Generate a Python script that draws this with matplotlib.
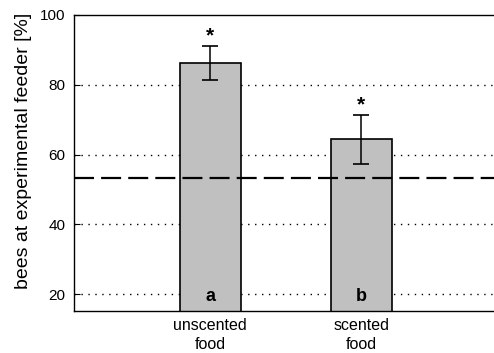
import numpy as np
import matplotlib.pyplot as plt

# Data
categories = ['unscented\nfood', 'scented\nfood']
means = [86.2, 64.4]
errors = [4.9, 7.0]
letters = ['a', 'b']
chance_level = 53.4
yticks = [20, 40, 60, 80, 100]

plt.rcParams['font.family'] = ['Liberation Sans', 'DejaVu Sans']

fig = plt.figure(figsize=(4.94, 3.53), dpi=100)
ax = fig.add_axes([74 / 494, 42 / 353, 1 - 74 / 494, 296 / 353])

x = np.arange(1, len(means) + 1)

# dotted grid lines behind the bars
for yv in yticks[:-1]:
    ax.axhline(yv, color='black', linestyle=(0, (1, 4)), linewidth=1.0, zorder=0)

ax.bar(x, means, width=0.402, bottom=0, color='#c0c0c0', edgecolor='black',
       linewidth=1.2, zorder=2)
ax.errorbar(x, means, yerr=errors, fmt='none', ecolor='black', elinewidth=1.1,
            capsize=6, capthick=1.2, zorder=3)

# significance asterisks and letters
for xi, m, e, let in zip(x, means, errors, letters):
    ax.text(xi, m + e + 0.2, '*', ha='center', va='bottom', fontsize=15,
            fontweight='bold', zorder=4)
    ax.text(xi, 16.8, let, ha='center', va='bottom', fontsize=13,
            fontweight='bold', zorder=4)

# chance level
ax.axhline(chance_level, color='black', linestyle=(0, (9, 3.2)), linewidth=1.6, zorder=5)

ax.set_xlim(0.097, 2.88)
ax.set_ylim(15.2, 100)
ax.set_yticks(yticks)
ax.set_xticks(x)
ax.set_xticklabels(categories, fontsize=11.5, linespacing=1.35)
ax.tick_params(axis='x', length=0, pad=5)
ax.tick_params(axis='y', direction='in', length=4, width=0.8, labelsize=11, pad=6)
ax.set_ylabel('bees at experimental feeder [%]', fontsize=14)
ax.yaxis.set_label_coords(-0.1, 0.54)

for side in ['left', 'bottom', 'top']:
    ax.spines[side].set_linewidth(1.0)
ax.spines['right'].set_visible(False)

fig.savefig('out.png', dpi=100)
